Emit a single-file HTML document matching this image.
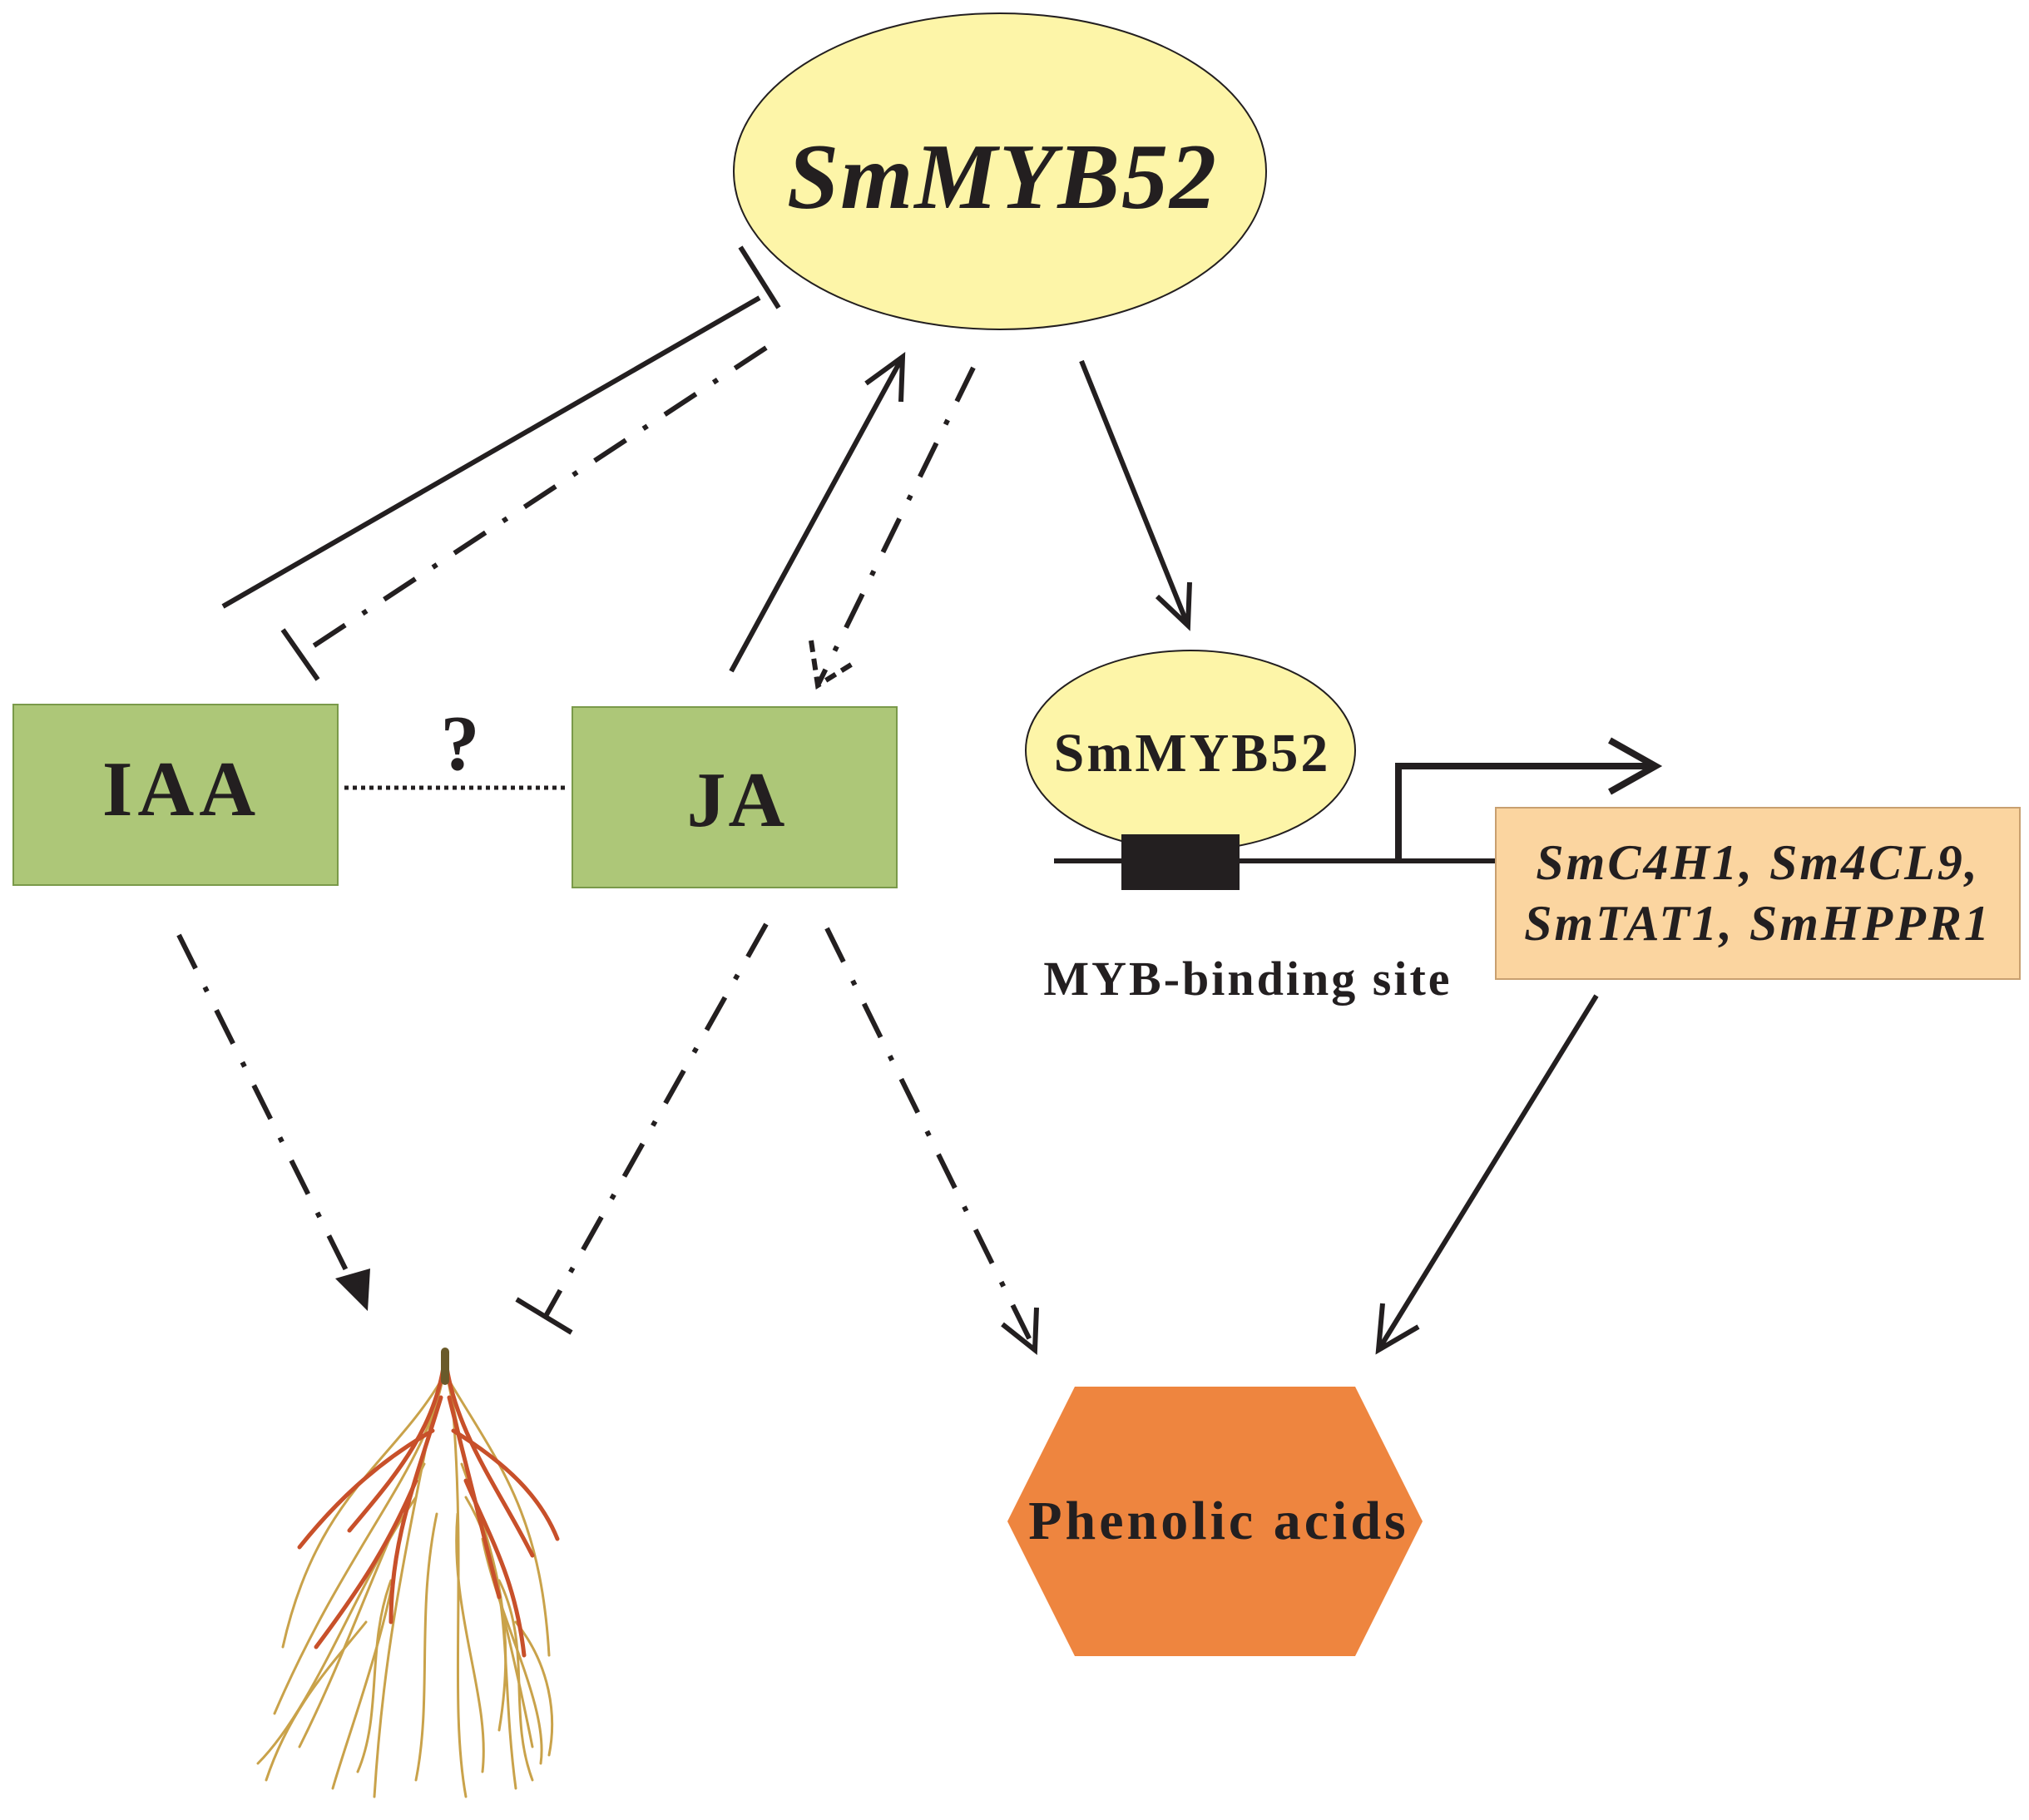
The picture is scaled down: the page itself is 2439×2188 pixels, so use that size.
<!DOCTYPE html>
<html><head><meta charset="utf-8"><style>
html,body{margin:0;padding:0;background:#fff;}
svg{display:block;}
text{font-family:"Liberation Serif",serif;font-weight:bold;fill:#231f20;}
</style></head><body>
<svg width="2439" height="2188" viewBox="0 0 2439 2188" xmlns="http://www.w3.org/2000/svg">
<g stroke="#231f20" stroke-width="6" fill="none" stroke-linecap="butt">
<line x1="268" y1="729" x2="913" y2="358"/>
<line x1="890" y1="297" x2="936" y2="370"/>
<line x1="921" y1="418" x2="361" y2="787" stroke-dasharray="45 25 6 25"/>
<line x1="340" y1="757" x2="382" y2="817"/>
<line x1="879" y1="807" x2="1085" y2="429"/>
<polyline points="1041,461 1085,429 1083,483"/>
<line x1="1170" y1="442" x2="983" y2="824" stroke-dasharray="45 25 6 25"/>
<polyline points="975,770 983,824 1028,796" stroke-dasharray="14 8"/>
<line x1="1300" y1="434" x2="1428" y2="752"/>
<polyline points="1391,717 1428,752 1430,700"/>
<line x1="215" y1="1124" x2="420" y2="1535" stroke-dasharray="45 25 6 25"/>
<line x1="921" y1="1111" x2="655" y2="1584" stroke-dasharray="45 25 6 25"/>
<line x1="621" y1="1562" x2="687" y2="1602"/>
<line x1="994" y1="1116" x2="1244" y2="1623" stroke-dasharray="45 25 6 25"/>
<polyline points="1205,1592 1244,1623 1246,1572"/>
<line x1="1919" y1="1197" x2="1657" y2="1623"/>
<polyline points="1662,1567 1657,1623 1705,1595"/>
<line x1="414" y1="947" x2="679" y2="947" stroke-dasharray="5 5" stroke-width="5"/>
<line x1="1267" y1="1035" x2="1798" y2="1035"/>
<polyline points="1681,1035 1681,921 1985,921" stroke-width="8"/>
<polyline points="1935,890 1990,921 1935,952" stroke-width="8"/>
</g>
<polygon points="442,1576 403,1537 445,1525" fill="#231f20"/>
<polygon points="415,1548 442,1576 430,1538" fill="#231f20"/>
<ellipse cx="1202" cy="206" rx="320" ry="190" fill="#fdf5a8" stroke="#231f20" stroke-width="2"/>
<text x="1205" y="250" font-size="112" font-style="italic" text-anchor="middle" letter-spacing="2">SmMYB52</text>
<rect x="16" y="847" width="390" height="217" fill="#adc778" stroke="#7a9a4a" stroke-width="2"/>
<text x="218" y="980" font-size="94" text-anchor="middle" letter-spacing="6">IAA</text>
<rect x="688" y="850" width="390" height="217" fill="#adc778" stroke="#7a9a4a" stroke-width="2"/>
<text x="886" y="993" font-size="94" text-anchor="middle" letter-spacing="3">JA</text>
<text x="553" y="925" font-size="94" text-anchor="middle" font-weight="normal">?</text>
<ellipse cx="1431" cy="902" rx="198" ry="120" fill="#fdf5a8" stroke="#231f20" stroke-width="2"/>
<text x="1433" y="927" font-size="66" text-anchor="middle" letter-spacing="3">SmMYB52</text>
<rect x="1348" y="1003" width="142" height="67" fill="#231f20"/>
<text x="1500" y="1196" font-size="58" text-anchor="middle" letter-spacing="3">MYB-binding site</text>
<rect x="1798" y="971" width="630" height="206" fill="#fbd5a0" stroke="#c8a070" stroke-width="2"/>
<text x="2113" y="1057" font-size="60" font-style="italic" text-anchor="middle" letter-spacing="3">SmC4H1, Sm4CL9,</text>
<text x="2113" y="1130" font-size="60" font-style="italic" text-anchor="middle" letter-spacing="3">SmTAT1, SmHPPR1</text>
<polygon points="1211,1829 1292,1667 1629,1667 1710,1829 1629,1991 1292,1991" fill="#ee853f"/>
<text x="1465" y="1850" font-size="66" text-anchor="middle" letter-spacing="4">Phenolic acids</text>
<g fill="none" stroke-linecap="round">
<g stroke="#c9a24a" stroke-width="3">
<path d="M535,1640 C520,1760 420,1850 330,2060"/>
<path d="M535,1640 C560,1780 600,1900 640,2100"/>
<path d="M530,1660 C470,1760 380,1800 340,1980"/>
<path d="M540,1660 C600,1760 650,1820 660,1990"/>
<path d="M520,1700 C480,1900 460,2000 450,2160"/>
<path d="M545,1700 C560,1900 540,2050 560,2160"/>
<path d="M500,1800 C430,1900 380,2050 310,2120"/>
<path d="M560,1800 C620,1900 600,2000 620,2150"/>
<path d="M480,1850 C470,1950 420,2080 400,2150"/>
<path d="M580,1850 C600,1950 660,2050 650,2120"/>
<path d="M510,1760 C450,1880 420,1980 360,2100"/>
<path d="M555,1760 C600,1880 620,1960 600,2080"/>
<path d="M470,1900 C440,1980 460,2060 430,2130"/>
<path d="M600,1900 C640,1980 610,2060 640,2140"/>
<path d="M525,1820 C500,1940 520,2040 500,2140"/>
<path d="M550,1820 C540,1940 590,2040 580,2130"/>
<path d="M440,1950 C400,2000 350,2050 320,2140"/>
<path d="M620,1950 C660,2000 670,2060 660,2110"/>
</g>
<g stroke="#c8502a" stroke-width="5">
<path d="M535,1630 C525,1720 470,1780 420,1840"/>
<path d="M535,1630 C545,1720 600,1790 640,1870"/>
<path d="M530,1680 C500,1780 470,1850 470,1950"/>
<path d="M540,1680 C560,1760 580,1840 600,1920"/>
<path d="M520,1720 C450,1760 400,1810 360,1860"/>
<path d="M545,1720 C610,1760 650,1800 670,1850"/>
<path d="M500,1780 C470,1850 440,1900 380,1980"/>
<path d="M560,1780 C590,1850 620,1900 630,1990"/>
</g>
<path d="M535,1625 L535,1660" stroke="#6a5a2a" stroke-width="10"/>
</g>
</svg>
</body></html>
